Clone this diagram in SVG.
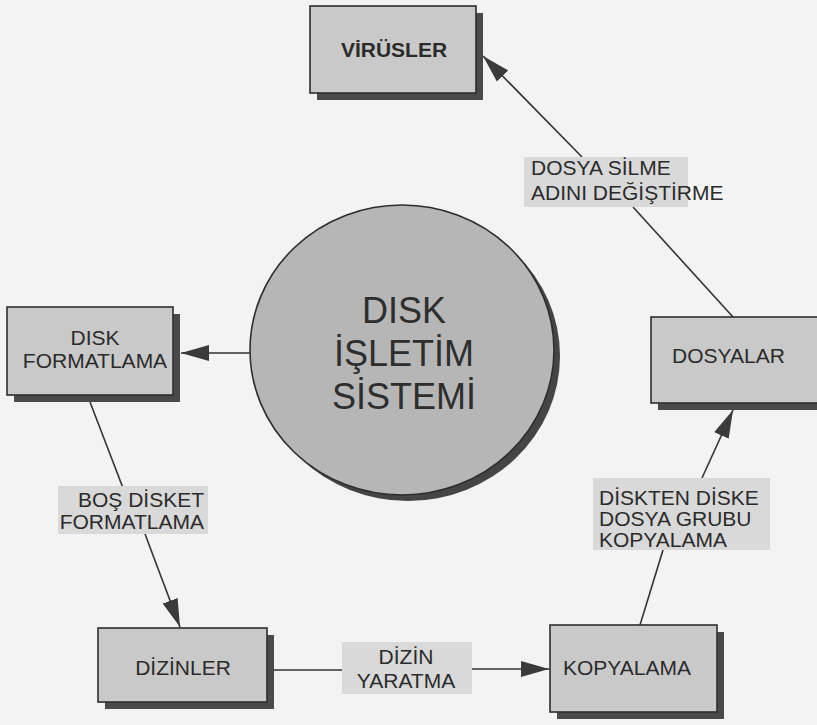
<svg xmlns="http://www.w3.org/2000/svg" width="817" height="725" viewBox="0 0 817 725">
<defs>
<style>
.box{fill:#c9c9c9;stroke:#2e2e2e;stroke-width:1.6}
.shadow{fill:#4a4a4a}
.lbl{fill:#d9d9d9}
.t{font-family:"Liberation Sans",Arial,sans-serif;font-size:21px;fill:#2b2b2b}
.big{font-family:"Liberation Sans",Arial,sans-serif;font-size:36px;fill:#2e2e2e}
.edge{stroke:#333;stroke-width:1.6;fill:none}
</style>
<marker id="ah" markerUnits="userSpaceOnUse" markerWidth="30" markerHeight="20" refX="28" refY="10" orient="auto">
<path d="M0,2 L28,10 L0,18 Z" fill="#3a3a3a"/>
</marker>
</defs>
<rect width="817" height="725" fill="#f3f3f3"/>

<g id="connectors">
<line class="edge" x1="250" y1="353" x2="181" y2="353" marker-end="url(#ah)"/>
<line class="edge" x1="90" y1="402" x2="123" y2="488"/>
<line class="edge" x1="145" y1="534" x2="180" y2="627" marker-end="url(#ah)"/>
<line class="edge" x1="273" y1="670" x2="342" y2="670"/>
<line class="edge" x1="472" y1="669" x2="549" y2="669" marker-end="url(#ah)"/>
<line class="edge" x1="640" y1="625" x2="663" y2="550"/>
<line class="edge" x1="702" y1="478" x2="733" y2="410" marker-end="url(#ah)"/>
<line class="edge" x1="733" y1="317" x2="633" y2="207"/>
<line class="edge" x1="582" y1="157" x2="483" y2="56" marker-end="url(#ah)"/>
</g>

<g id="disk-isletim-sistemi">
<ellipse cx="408" cy="356" rx="152" ry="145" fill="#454545"/>
<ellipse cx="402" cy="350" rx="152" ry="145" fill="#b6b6b6" stroke="#2e2e2e" stroke-width="1.6"/>
<text class="big" x="404" y="323" text-anchor="middle">DISK</text>
<text class="big" x="404" y="366" text-anchor="middle">İŞLETİM</text>
<text class="big" x="404" y="409" text-anchor="middle">SİSTEMİ</text>
</g>

<g id="virusler">
<rect class="shadow" x="317" y="13" width="166" height="87"/>
<rect class="box" x="310" y="6" width="166" height="87"/>
<text class="t" x="394" y="57" text-anchor="middle" font-weight="bold" font-size="20">VİRÜSLER</text>
</g>

<g id="disk-formatlama">
<rect class="shadow" x="14" y="314" width="166" height="88"/>
<rect class="box" x="7" y="307" width="166" height="88"/>
<text class="t" x="95" y="345" text-anchor="middle">DISK</text>
<text class="t" x="95" y="368" text-anchor="middle">FORMATLAMA</text>
</g>

<g id="dosyalar">
<rect class="shadow" x="658" y="324" width="180" height="86"/>
<rect class="box" x="651" y="317" width="180" height="86"/>
<text class="t" x="672" y="363">DOSYALAR</text>
</g>

<g id="dizinler">
<rect class="shadow" x="105" y="635" width="169" height="74"/>
<rect class="box" x="98" y="628" width="169" height="74"/>
<text class="t" x="183" y="675" text-anchor="middle">DİZİNLER</text>
</g>

<g id="kopyalama">
<rect class="shadow" x="557" y="632" width="167" height="87"/>
<rect class="box" x="550" y="625" width="167" height="87"/>
<text class="t" x="627" y="675" text-anchor="middle">KOPYALAMA</text>
</g>

<g id="label-dosya-silme">
<rect class="lbl" x="524" y="157" width="164" height="50"/>
<text class="t" x="531" y="175">DOSYA SİLME</text>
<text class="t" x="531" y="200">ADINI DEĞİŞTİRME</text>
</g>

<g id="label-diskten-diske">
<rect class="lbl" x="593" y="478" width="177" height="72"/>
<text class="t" x="599" y="505">DİSKTEN DİSKE</text>
<text class="t" x="599" y="526">DOSYA GRUBU</text>
<text class="t" x="599" y="547">KOPYALAMA</text>
</g>

<g id="label-bos-disket">
<rect class="lbl" x="58" y="486" width="150" height="48"/>
<text class="t" x="204" y="507" text-anchor="end">BOŞ DİSKET</text>
<text class="t" x="204" y="529" text-anchor="end">FORMATLAMA</text>
</g>

<g id="label-dizin-yaratma">
<rect class="lbl" x="342" y="642" width="130" height="52"/>
<text class="t" x="406" y="664" text-anchor="middle">DİZİN</text>
<text class="t" x="406" y="688" text-anchor="middle">YARATMA</text>
</g>
</svg>
